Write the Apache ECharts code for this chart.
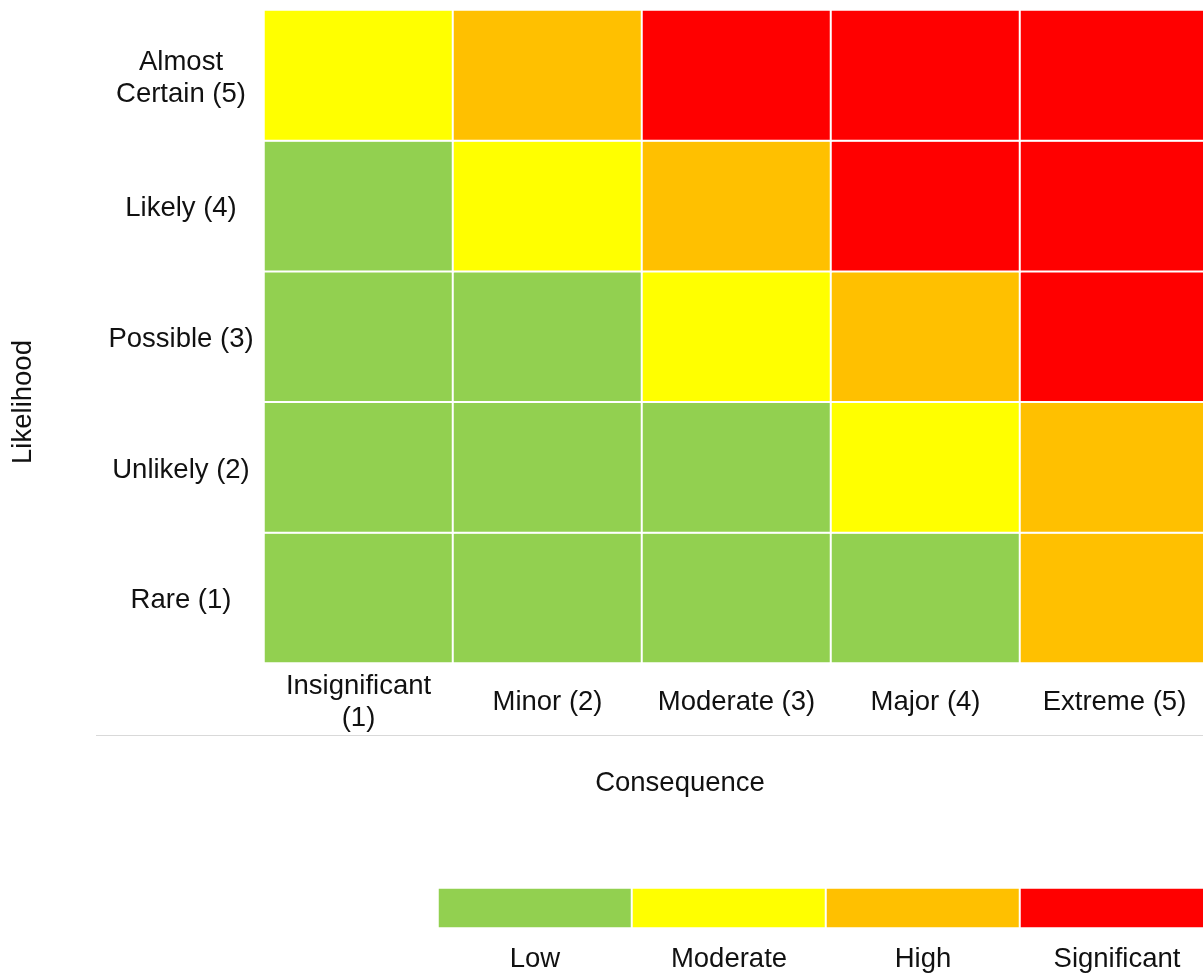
<!DOCTYPE html>
<html>
<head>
<meta charset="utf-8">
<style>
html,body{margin:0;padding:0;background:#fff;overflow:hidden;width:1203px;height:978px;}
#chart{width:1216px;height:978px;}
</style>
<script src="https://cdn.jsdelivr.net/npm/echarts@6/dist/echarts.min.js"></script>
</head>
<body>
<div id="chart"></div>
<script>
const consequences = ['Insignificant\n(1)', 'Minor (2)', 'Moderate (3)', 'Major (4)', 'Extreme (5)'];
const likelihoods = ['Rare (1)', 'Unlikely (2)', 'Possible (3)', 'Likely (4)', 'Almost\nCertain (5)'];
const riskLevels = ['Low', 'Moderate', 'High', 'Significant'];
// risk level index per cell: rows = likelihood (Rare..Almost Certain), cols = consequence (1..5)
const rowRare = [0, 0, 0, 0, 2];
const rowUnlikely = [0, 0, 0, 1, 2];
const rowPossible = [0, 0, 1, 2, 3];
const rowLikely = [0, 1, 2, 3, 3];
const rowAlmostCertain = [1, 2, 3, 3, 3];
const riskRows = [rowRare, rowUnlikely, rowPossible, rowLikely, rowAlmostCertain];

const levelColors = ['#92D050', '#FFFF00', '#FFC000', '#FF0000'];

const matrixData = [];
riskRows.forEach((row, yi) => row.forEach((v, xi) => matrixData.push([xi, yi, v])));
const legendData = riskLevels.map((_, i) => [i, 0, i]);

const FONT = '"Liberation Sans", Arial, sans-serif';
const FS = 27.5;

const chart = echarts.init(document.getElementById('chart'), null, {renderer: 'canvas'});
chart.setOption({
  animation: false,
  backgroundColor: '#ffffff',
  textStyle: {fontFamily: FONT, color: '#111'},
  grid: [
    {left: 264, top: 10, width: 945, height: 653, containLabel: false},
    {left: 438, top: 888, width: 776, height: 40, containLabel: false}
  ],
  xAxis: [
    {
      type: 'category', gridIndex: 0, data: consequences,
      axisLine: {show: false}, axisTick: {show: false}, splitLine: {show: false},
      axisLabel: {margin: 39, verticalAlign: 'middle', fontSize: FS, lineHeight: 32, color: '#111', fontFamily: FONT, interval: 0}
    },
    {
      type: 'category', gridIndex: 1, data: riskLevels,
      axisLine: {show: false}, axisTick: {show: false}, splitLine: {show: false},
      axisLabel: {margin: 31, verticalAlign: 'middle', fontSize: FS, color: '#111', fontFamily: FONT, interval: 0}
    }
  ],
  yAxis: [
    {
      type: 'category', gridIndex: 0, data: likelihoods,
      axisLine: {show: false}, axisTick: {show: false}, splitLine: {show: false},
      axisLabel: {
        margin: 83, align: 'center', interval: 0,
        formatter: v => '{a|' + v.split('\n').join('}\n{a|') + '}',
        rich: {a: {fontSize: FS, lineHeight: 32, color: '#111', fontFamily: FONT, padding: [6, 0, 0, 0]}}
      }
    },
    {
      type: 'category', gridIndex: 1, data: [''],
      axisLine: {show: false}, axisTick: {show: false}, splitLine: {show: false},
      axisLabel: {show: false}
    }
  ],
  visualMap: {
    show: false, type: 'piecewise', dimension: 2, seriesIndex: [0, 1],
    pieces: levelColors.map((c, i) => ({value: i, color: c}))
  },
  series: [
    {
      type: 'heatmap', xAxisIndex: 0, yAxisIndex: 0, data: matrixData,
      itemStyle: {borderColor: '#ffffff', borderWidth: 2},
      emphasis: {disabled: true}
    },
    {
      type: 'heatmap', xAxisIndex: 1, yAxisIndex: 1, data: legendData,
      itemStyle: {borderColor: '#ffffff', borderWidth: 2},
      emphasis: {disabled: true}
    }
  ],
  graphic: [
    {type: 'line', shape: {x1: 96, y1: 735.5, x2: 1216, y2: 735.5}, style: {stroke: '#d9d9d9', lineWidth: 1}, silent: true},
    {type: 'text', x: 680, y: 783, style: {text: 'Consequence', fontSize: FS, fontFamily: FONT, fill: '#111', textAlign: 'center', textVerticalAlign: 'middle'}, silent: true},
    {type: 'text', x: 23, y: 402, rotation: Math.PI / 2, style: {text: 'Likelihood', fontSize: FS, fontFamily: FONT, fill: '#111', textAlign: 'center', textVerticalAlign: 'middle'}, silent: true}
  ]
});
</script>
</body>
</html>
